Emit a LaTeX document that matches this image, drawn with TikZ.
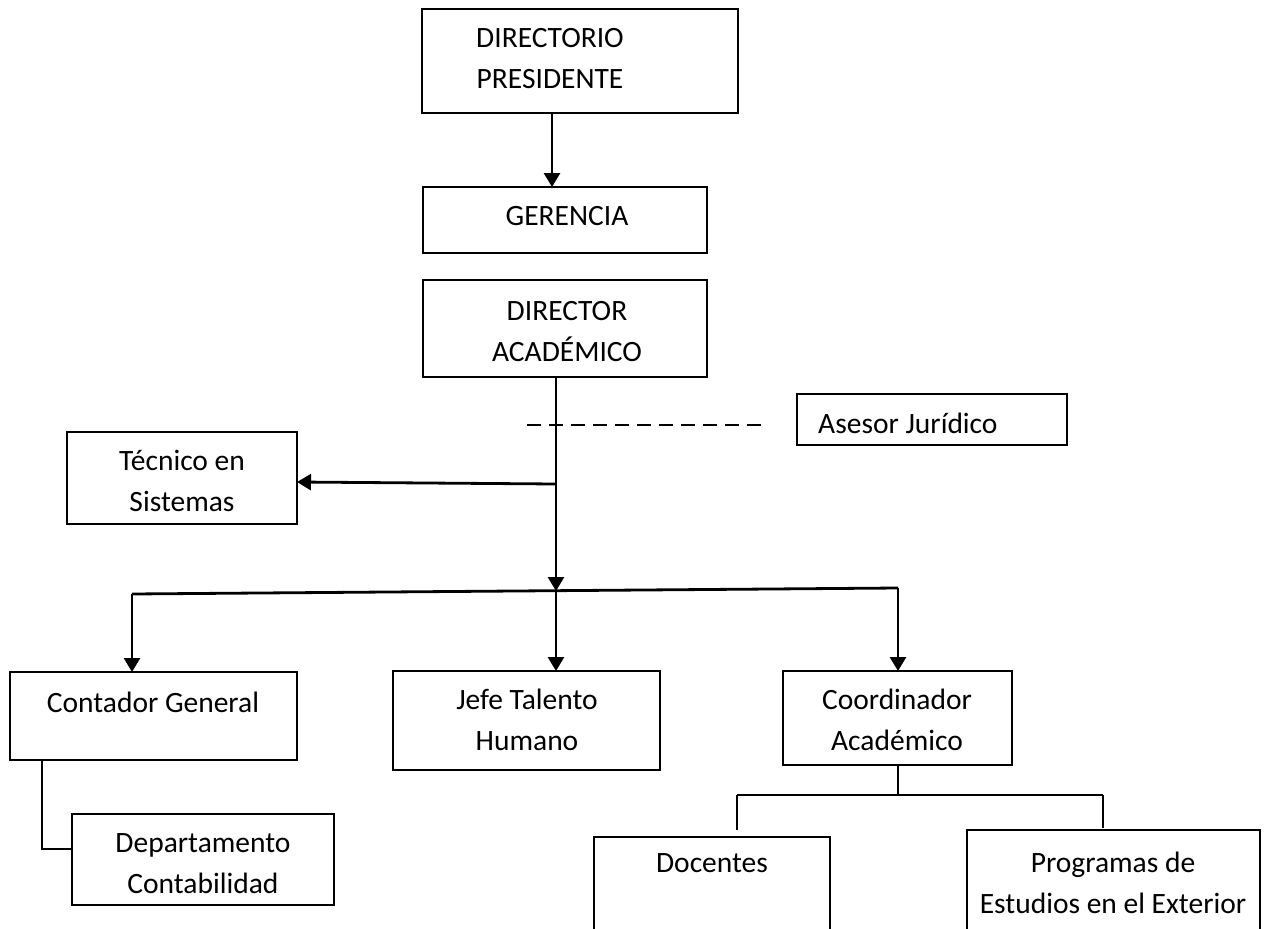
\documentclass[tikz,border=0pt]{standalone}
\usepackage{fontspec}
\setmainfont{Carlito}
\usetikzlibrary{arrows.meta}
\begin{document}
\begin{tikzpicture}[x=1pt,y=-1pt,
  box/.style={draw,line width=2pt,rectangle,inner sep=0pt,outer sep=0pt,anchor=north west},
  lbl/.style={font=\fontsize{29.5}{41}\selectfont,align=center,inner sep=0pt,anchor=north},
  conn/.style={line width=2.8pt},
  thinconn/.style={line width=2pt},
  arr/.style={conn,-{Triangle[width=16pt,length=14pt]}},
  dashline/.style={line width=1.3pt,dash pattern=on 14pt off 8pt}]
\clip (0,0) rectangle (1283,929);
\fill[white] (0,0) rectangle (1283,929);
% boxes
\node[box,minimum width=316pt,minimum height=104pt] (dp) at (422,9) {};
\node[box,minimum width=284pt,minimum height=66pt] (ger) at (423,187) {};
\node[box,minimum width=284pt,minimum height=97pt] (da) at (423,280) {};
\node[box,minimum width=270pt,minimum height=51pt] (aj) at (797,394) {};
\node[box,minimum width=230pt,minimum height=92pt] (tec) at (67,432) {};
\node[box,minimum width=287pt,minimum height=88pt] (cg) at (10,672) {};
\node[box,minimum width=262pt,minimum height=91pt] (dc) at (72,814) {};
\node[box,minimum width=267pt,minimum height=99pt] (jt) at (393,671) {};
\node[box,minimum width=229pt,minimum height=94pt] (ca) at (783,671) {};
\node[box,minimum width=236pt,minimum height=130pt] (doc) at (594,837) {};
\node[box,minimum width=293pt,minimum height=130pt] (pe) at (967,830) {};
% labels
\node[lbl] (tdp) at (550,18.3) {\strut DIRECTORIO\\PRESIDENTE};
\node[lbl] (tger) at (567,196.3) {\strut GERENCIA};
\node[lbl] (tda) at (567,291.3) {\strut DIRECTOR\\ACADÉMICO};
\node[lbl,anchor=north west] (taj) at (818,404.3) {\strut Asesor Jurídico};
\node[lbl] (ttec) at (182,441.3) {\strut Técnico en\\Sistemas};
\node[lbl] (tcg) at (153,683.3) {\strut Contador General};
\node[lbl] (tdc) at (203,823.3) {\strut Departamento\\Contabilidad};
\node[lbl] (tjt) at (527,680.3) {\strut Jefe Talento\\Humano};
\node[lbl] (tca) at (897,680.3) {\strut Coordinador\\Académico};
\node[lbl] (tdoc) at (712,843.3) {\strut Docentes};
\node[lbl] (tpe) at (1113,843.3) {\strut Programas de\\Estudios en el Exterior};
% connector points
\coordinate (j) at (556,591);
\coordinate (t) at (556,484);
\coordinate (d1) at (527,425);
\coordinate (d2) at (765,425);
\coordinate (bl) at (132,594);
\coordinate (br) at (898,588);
\coordinate (cl) at (737,795);
\coordinate (cr) at (1103,795);
\coordinate (cle) at (737,830);
\coordinate (cre) at (1103,828);
% connectors
\draw[arr] ([xshift=130pt]dp.south west) -- ([xshift=129pt]ger.north west);
\draw[arr] ([xshift=133pt]da.south west) -- (j);
\draw[arr] (t) -- ([yshift=-4pt]tec.east);
\draw[dashline] (d1) -- (d2);
\draw[conn] (bl) -- (br);
\draw[arr] (bl) -- (bl |- cg.north);
\draw[arr] (j) -- (j |- jt.north);
\draw[arr] (br) -- (br |- ca.north);
\draw[thinconn] ([xshift=32pt]cg.south west) |- ([yshift=11pt]dc.west);
\draw[thinconn] (ca.south) -- (ca.south |- cl);
\draw[thinconn] (cl) -- (cr);
\draw[thinconn] (cl) -- (cle);
\draw[thinconn] (cr) -- (cre);
\end{tikzpicture}
\end{document}
